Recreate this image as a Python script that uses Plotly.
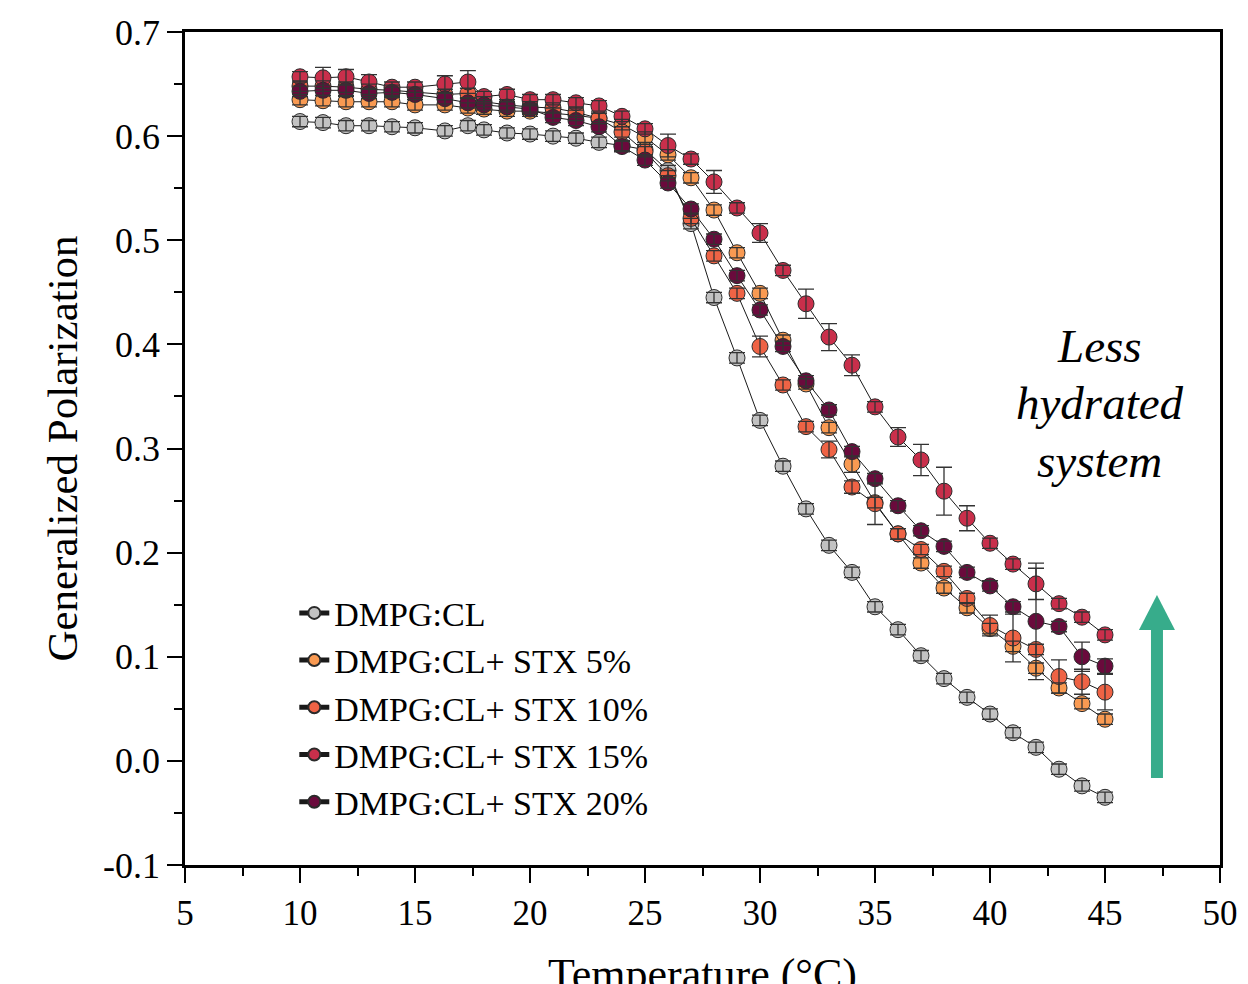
import plotly.graph_objects as go

temperature = [10, 11, 12, 13, 14, 15, 16.3, 17.3, 18, 19, 20, 21, 22, 23, 24, 25, 26, 27,
               28, 29, 30, 31, 32, 33, 34, 35, 36, 37, 38, 39, 40, 41, 42, 43, 44, 45]

gp_dmpg_cl = [0.614, 0.613, 0.610, 0.610, 0.609, 0.608, 0.605, 0.610, 0.606, 0.603, 0.602, 0.600,
              0.598, 0.594, 0.591, 0.587, 0.567, 0.516, 0.445, 0.387, 0.327, 0.283, 0.242, 0.207,
              0.181, 0.148, 0.126, 0.101, 0.079, 0.061, 0.045, 0.027, 0.013, -0.008, -0.024, -0.035]
err_dmpg_cl = [0.005, 0.005, 0.005, 0.005, 0.005, 0.005, 0.005, 0.005, 0.005, 0.005, 0.005, 0.005,
               0.005, 0.005, 0.005, 0.005, 0.005, 0.005, 0.005, 0.005, 0.005, 0.005, 0.005, 0.005,
               0.005, 0.005, 0.005, 0.005, 0.005, 0.005, 0.005, 0.005, 0.005, 0.005, 0.005, 0.005]

gp_stx5 = [0.635, 0.634, 0.633, 0.633, 0.633, 0.630, 0.630, 0.627, 0.626, 0.624, 0.624, 0.622,
           0.620, 0.617, 0.611, 0.599, 0.582, 0.560, 0.529, 0.488, 0.449, 0.404, 0.362, 0.320,
           0.285, 0.248, 0.218, 0.190, 0.166, 0.147, 0.127, 0.110, 0.089, 0.070, 0.055, 0.040]
err_stx5 = [0.005, 0.005, 0.005, 0.005, 0.005, 0.005, 0.005, 0.005, 0.005, 0.005, 0.005, 0.005,
            0.005, 0.005, 0.005, 0.005, 0.005, 0.005, 0.005, 0.005, 0.005, 0.005, 0.005, 0.005,
            0.008, 0.005, 0.005, 0.005, 0.005, 0.005, 0.005, 0.005, 0.005, 0.005, 0.005, 0.005]

gp_stx10 = [0.648, 0.648, 0.647, 0.645, 0.644, 0.642, 0.640, 0.641, 0.633, 0.630, 0.628, 0.627,
            0.623, 0.617, 0.604, 0.585, 0.562, 0.521, 0.485, 0.449, 0.398, 0.361, 0.321, 0.299,
            0.263, 0.247, 0.218, 0.203, 0.182, 0.156, 0.130, 0.118, 0.107, 0.081, 0.076, 0.066]
err_stx10 = [0.005, 0.005, 0.005, 0.005, 0.005, 0.005, 0.005, 0.005, 0.005, 0.005, 0.005, 0.005,
             0.005, 0.005, 0.005, 0.005, 0.005, 0.005, 0.005, 0.005, 0.010, 0.005, 0.005, 0.008,
             0.006, 0.020, 0.005, 0.005, 0.005, 0.005, 0.010, 0.023, 0.005, 0.016, 0.012, 0.017]

gp_stx15 = [0.657, 0.656, 0.657, 0.652, 0.647, 0.647, 0.650, 0.652, 0.638, 0.640, 0.635, 0.635,
            0.632, 0.629, 0.619, 0.607, 0.591, 0.578, 0.556, 0.531, 0.507, 0.471, 0.439, 0.407,
            0.380, 0.340, 0.311, 0.289, 0.259, 0.233, 0.209, 0.189, 0.170, 0.151, 0.138, 0.121]
err_stx15 = [0.005, 0.010, 0.007, 0.007, 0.005, 0.005, 0.008, 0.011, 0.005, 0.005, 0.005, 0.005,
             0.005, 0.005, 0.005, 0.005, 0.011, 0.005, 0.011, 0.005, 0.009, 0.005, 0.014, 0.013,
             0.010, 0.005, 0.009, 0.015, 0.023, 0.012, 0.005, 0.005, 0.015, 0.005, 0.005, 0.005]

gp_stx20 = [0.643, 0.644, 0.644, 0.641, 0.642, 0.640, 0.636, 0.632, 0.630, 0.628, 0.626, 0.618,
            0.615, 0.609, 0.590, 0.577, 0.555, 0.530, 0.501, 0.466, 0.433, 0.398, 0.365, 0.337,
            0.297, 0.271, 0.245, 0.221, 0.206, 0.181, 0.168, 0.148, 0.134, 0.129, 0.100, 0.091]
err_stx20 = [0.005, 0.005, 0.005, 0.005, 0.005, 0.005, 0.005, 0.005, 0.005, 0.005, 0.005, 0.005,
             0.005, 0.005, 0.005, 0.005, 0.005, 0.005, 0.005, 0.005, 0.005, 0.005, 0.005, 0.005,
             0.005, 0.005, 0.005, 0.005, 0.005, 0.005, 0.005, 0.005, 0.056, 0.005, 0.014, 0.007]

series_names = ["DMPG:CL", "DMPG:CL+ STX 5%", "DMPG:CL+ STX 10%", "DMPG:CL+ STX 15%", "DMPG:CL+ STX 20%"]
series_values = [gp_dmpg_cl, gp_stx5, gp_stx10, gp_stx15, gp_stx20]
series_errors = [err_dmpg_cl, err_stx5, err_stx10, err_stx15, err_stx20]
series_colors = ["#C2C2C2", "#F99A52", "#EE6345", "#C92F4B", "#6A0A3C"]

y_tickvals = [-0.1, 0.0, 0.1, 0.2, 0.3, 0.4, 0.5, 0.6, 0.7]
y_ticktext = ["-0.1", "0.0", "0.1", "0.2", "0.3", "0.4", "0.5", "0.6", "0.7"]
x_tickvals = [5, 10, 15, 20, 25, 30, 35, 40, 45, 50]

x_title = "Temperature (°C)"
y_title = "Generalized Polarization"
annotation_lines = ["Less", "hydrated", "system"]

FONT = "Liberation Serif, Times New Roman, serif"

fig = go.Figure()
for name, vals, col in zip(series_names, series_values, series_colors):
    fig.add_trace(go.Scatter(
        x=temperature, y=vals, name=name, mode="lines+markers",
        line=dict(color="#1a1a1a", width=1),
        marker=dict(size=16, color=col, line=dict(color="#2a2a2a", width=1)),
    ))

# error bars drawn on top of all markers
for vals, errs in zip(series_values, series_errors):
    fig.add_trace(go.Scatter(
        x=temperature, y=vals, mode="markers", showlegend=False, hoverinfo="skip",
        marker=dict(size=16, color="rgba(0,0,0,0)", line=dict(width=0)),
        error_y=dict(type="data", array=errs, visible=True, color="#333333",
                     thickness=1.3, width=8),
    ))

axis_common = dict(
    showgrid=False, zeroline=False, showline=True, linecolor="black", linewidth=2.5,
    mirror=True, ticks="outside", ticklen=15, tickwidth=2, tickcolor="black",
    automargin=False,
)

fig.update_xaxes(
    range=[5, 50], tickvals=x_tickvals,
    tickfont=dict(family=FONT, size=35, color="black"),
    minor=dict(dtick=2.5, ticks="outside", ticklen=8, tickwidth=2, tickcolor="black"),
    **axis_common,
)
fig.update_yaxes(
    range=[-0.1, 0.7], tickvals=y_tickvals, ticktext=y_ticktext,
    tickfont=dict(family=FONT, size=36, color="black"),
    minor=dict(dtick=0.05, ticks="outside", ticklen=8, tickwidth=2, tickcolor="black"),
    title=dict(text=y_title, font=dict(family=FONT, size=43, color="black"), standoff=12),
    **axis_common,
)

# x-axis title as annotation so it can sit partly below the page edge like the reference
fig.add_annotation(
    xref="paper", yref="paper", x=0.5, y=-0.1309, xanchor="center", yanchor="middle",
    showarrow=False, text=x_title, font=dict(family=FONT, size=44, color="black"),
)

# arrow (shaft + head) in paper coordinates
arrow_color = "#37AC8B"
fig.add_shape(type="rect", xref="paper", yref="paper", x0=0.9333, x1=0.9449, y0=0.1044, y1=0.2830,
              fillcolor=arrow_color, line=dict(width=0))
fig.add_shape(type="path", xref="paper", yref="paper",
              path="M 0.9217 0.2821 L 0.9565 0.2821 L 0.9391 0.3241 Z",
              fillcolor=arrow_color, line=dict(width=0))

for txt, ypos in zip(annotation_lines, [0.6230, 0.5546, 0.4850]):
    fig.add_annotation(
        xref="paper", yref="paper", x=0.884, y=ypos, xanchor="center", yanchor="middle",
        showarrow=False, text="<i>" + txt + "</i>",
        font=dict(family=FONT, size=47, color="black"),
    )

fig.update_layout(
    width=1240, height=976,
    margin=dict(l=177, r=28, t=24, b=119, autoexpand=False),
    paper_bgcolor="white", plot_bgcolor="white",
    font=dict(family=FONT, color="black"),
    showlegend=True,
    legend=dict(x=0.1056, y=0.337, xanchor="left", yanchor="top",
                font=dict(family=FONT, size=34, color="black"),
                bgcolor="rgba(0,0,0,0)", tracegroupgap=0, itemsizing="constant"),
)

fig.write_html("out.html")
